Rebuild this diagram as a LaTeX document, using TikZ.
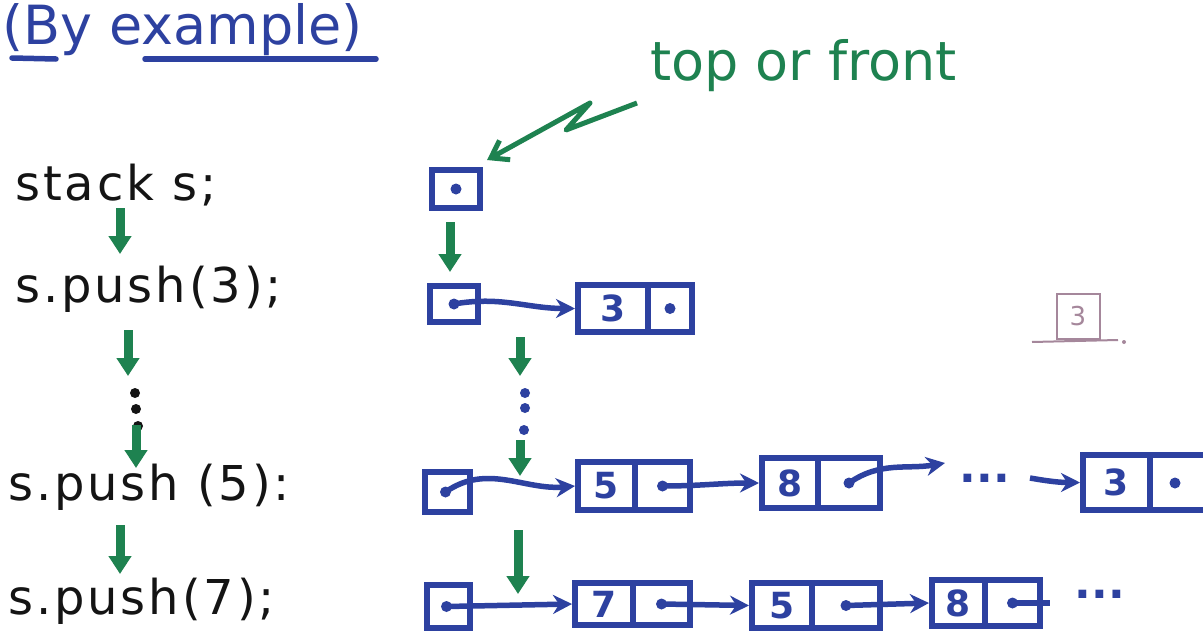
\documentclass[tikz,border=0pt]{standalone}
\usepackage{fontspec}
\setmainfont{DejaVu Sans}
\usetikzlibrary{arrows.meta}
\definecolor{inkblue}{RGB}{45,65,160}
\definecolor{inkgreen}{RGB}{30,130,80}
\definecolor{inkblack}{RGB}{20,20,20}
\definecolor{faint}{RGB}{165,135,155}
\tikzset{
  code/.style={anchor=base west, inner sep=0pt, text=inkblack,
    font=\fontsize{48}{52}\selectfont\addfontfeature{LetterSpace=6}},
  garrow/.style={draw=inkgreen, line width=9pt, -{Triangle[length=18pt,width=22pt]}},
  bdot/.style={circle, fill=inkblack, inner sep=0pt, minimum size=10pt},
  ldot/.style={circle, fill=inkblue, inner sep=0pt, minimum size=10pt},
  cell/.style={draw=inkblue, line width=6pt, inner sep=0pt, text=inkblue},
  num/.style={text=inkblue, font=\fontsize{36}{38}\selectfont\bfseries},
  link/.style={draw=inkblue, line width=5.5pt, -{Stealth[length=19pt,width=19pt]}},
  pdot/.style={circle, fill=inkblue, inner sep=0pt, minimum size=11pt},
  ellip/.style={text=inkblue, font=\fontsize{44}{46}\selectfont\bfseries, inner sep=0pt},
}
\newcommand{\cellbox}[5]{% name, x1, y1, x2, y2
  \node[cell, minimum width=#4-#2, minimum height=#5-#3] (#1) at ({(#2+#4)/2},{(#3+#5)/2}) {};}
\begin{document}
\begin{tikzpicture}[x=1pt,y=-1pt]
\useasboundingbox (0,0) rectangle (1203,643);
\fill[white] (0,0) rectangle (1203,643);

% title
\node[anchor=base west, inner sep=0pt, text=inkblue,
  font=\fontsize{54}{58}\selectfont] (title) at (2,44) {(By example)};
\coordinate (u1a) at (12,58); \coordinate (u1b) at (56,59);
\coordinate (u2a) at (145,59); \coordinate (u2b) at (376,59);
\draw[inkblue, line width=5.5pt, line cap=round] (u1a) -- (u1b);
\draw[inkblue, line width=5.5pt, line cap=round] (u2a) -- (u2b);

% left code column
\node[code] (c0) at (15,200) {stack s;};
\node[code] (c1) at (15,302) {s.push(3);};
\node[code] (c2) at (8,500) {s.push (5):};
\node[code] (c3) at (8,614) {s.push(7);};

\coordinate (ga1) at (120,208); \coordinate (gb1) at (120,254);
\coordinate (ga2) at (128,330); \coordinate (gb2) at (128,376);
\coordinate (ga3) at (136,425); \coordinate (gb3) at (136,468);
\coordinate (ga4) at (120,525); \coordinate (gb4) at (120,574);
\draw[garrow] (ga1) -- (gb1);
\draw[garrow] (ga2) -- (gb2);
\node[bdot] (ld1) at (135,393) {};
\node[bdot] (ld2) at (136,409) {};
\node[bdot] (ld3) at (138,426) {};
\draw[garrow] (ga3) -- (gb3);
\draw[garrow] (ga4) -- (gb4);

% top or front
\node[anchor=base west, inner sep=0pt, text=inkgreen,
  font=\fontsize{54}{58}\selectfont] (tof) at (650,80) {top or front};
\coordinate (z0) at (637,103);
\coordinate (z1) at (566,130);
\coordinate (z2) at (590,103);
\coordinate (z3) at (487,160);
\draw[inkgreen, line width=5pt, line join=round,
  -{Straight Barb[length=16pt,width=22pt]}] (z0) -- (z1) -- (z2) -- (z3);

% row 0: empty top
\cellbox{t0}{432}{170}{480}{208}
\node[pdot] (t0d) at (t0.center) {};
\coordinate (gra) at (450,222); \coordinate (grb) at (450,272);
\draw[garrow] (gra) -- (grb);

% row 1: push(3)
\cellbox{p1}{430}{286}{478}{322}
\node[pdot] (p1d) at (p1.center) {};
\cellbox{n1v}{578}{285}{648}{332}
\cellbox{n1p}{648}{285}{692}{332}
\node[num] at (n1v.center) {3};
\node[pdot] (n1d) at (n1p.center) {};
\draw[link] (p1d.center) to[out=10,in=180] (n1v.west);

% dots right column
\coordinate (gra2) at (520,337); \coordinate (grb2) at (520,376);
\draw[garrow] (gra2) -- (grb2);
\node[ldot] (rd1) at (525,393) {};
\node[ldot] (rd2) at (525,408) {};
\node[ldot] (rd3) at (524,430) {};
\coordinate (gra3) at (520,440); \coordinate (grb3) at (520,476);
\draw[garrow] (gra3) -- (grb3);

% row 3: push(5)
\cellbox{p3}{425}{472}{470}{512}
\node[pdot] (p3d) at ([xshift=-2pt]p3.center) {};
\cellbox{n5v}{578}{462}{635}{510}
\cellbox{n5p}{635}{462}{690}{510}
\node[num] at (n5v.center) {5};
\node[pdot] (n5d) at (n5p.center) {};
\cellbox{n8v}{762}{458}{818}{508}
\cellbox{n8p}{818}{458}{880}{508}
\node[num] at (n8v.center) {8};
\node[pdot] (n8d) at (n8p.center) {};
\coordinate (e1) at (945,463);
\node[ellip] (dd1) at (985,478) {...};
\coordinate (s1) at (1030,478);
\cellbox{n3v}{1083}{455}{1150}{510}
\cellbox{n3p}{1150}{455}{1212}{510}
\node[num] at (n3v.center) {3};
\node[pdot] (n3d) at (1175,483) {};
\draw[link] (p3d.center) to[out=35,in=185] (n5v.west);
\draw[link] (n5d.center) to[out=0,in=180] (n8v.west);
\draw[link] (n8d.center) to[out=35,in=190] (e1);
\draw[link] (s1) to[out=-10,in=180] (n3v.west);

% row 4: push(7)
\coordinate (gra4) at (518,530); \coordinate (grb4) at (518,594);
\cellbox{p4}{427}{585}{470}{628}
\node[pdot] (p4d) at ([xshift=-2pt]p4.center) {};
\cellbox{n7v}{575}{583}{633}{625}
\cellbox{n7p}{633}{583}{690}{625}
\node[num] at (n7v.center) {7};
\node[pdot] (n7d) at (n7p.center) {};
\cellbox{n5bv}{752}{583}{812}{628}
\cellbox{n5bp}{812}{583}{880}{628}
\node[num] at (n5bv.center) {5};
\node[pdot] (n5bd) at (n5bp.center) {};
\cellbox{n8bv}{932}{580}{985}{626}
\cellbox{n8bp}{985}{580}{1040}{626}
\node[num] at (n8bv.center) {8};
\node[pdot] (n8bd) at (n8bp.center) {};
\coordinate (e2) at (1050,603);
\node[ellip] (dd2) at (1100,594) {...};
\draw[link] (p4d.center) -- (n7v.west);
\draw[link] (n7d.center) -- (n5bv.west);
\draw[link] (n5bd.center) -- (n8bv.west);
\draw[inkblue, line width=5.5pt] (n8bd.center) -- (e2);
\draw[garrow] (gra4) -- (grb4);

% faint sketch
\node[draw=faint, line width=2pt, minimum width=43pt, minimum height=45pt,
  inner sep=0pt, text=faint, font=\fontsize{26}{28}\selectfont] (fb) at (1078,316) {3};
\coordinate (fl1) at (1032,342); \coordinate (fl2) at (1118,340);
\draw[faint, line width=2pt] (fl1) -- (fl2);
\node[circle, fill=faint, inner sep=0pt, minimum size=4pt] (fd) at (1124,342) {};
\end{tikzpicture}
\end{document}
